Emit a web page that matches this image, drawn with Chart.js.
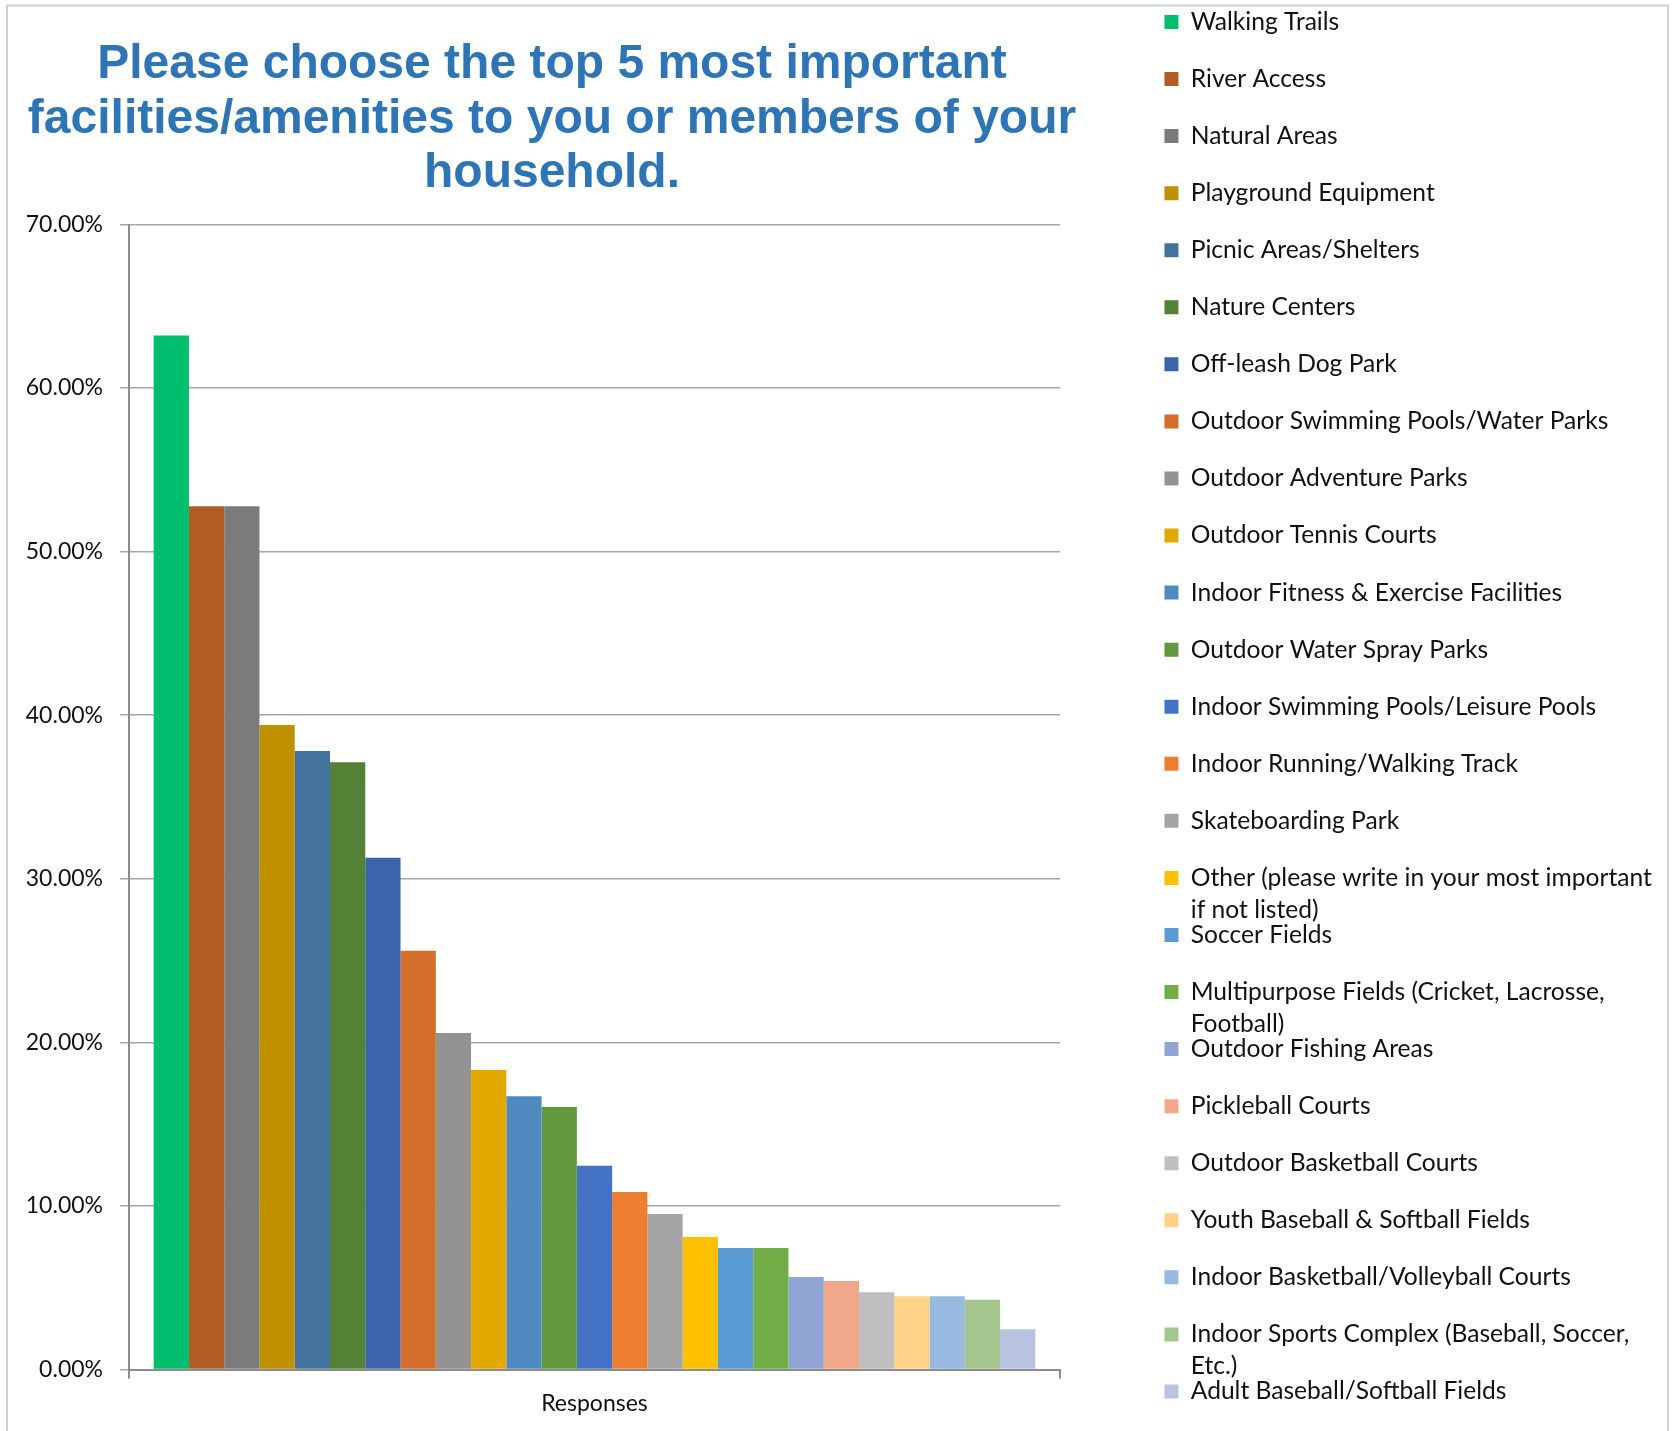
<!DOCTYPE html>
<html><head><meta charset="utf-8">
<script src="https://cdn.jsdelivr.net/npm/chart.js@4.4.1/dist/chart.umd.min.js"></script>
<style>html,body{margin:0;padding:0;background:#fff;} canvas{display:block;}</style>
</head><body>
<canvas id="c" width="1674" height="1431"></canvas>
<script>
// ---- data ----
const categories = ['Responses'];
const facilityLines = [
  ['Walking Trails'], ['River Access'], ['Natural Areas'], ['Playground Equipment'],
  ['Picnic Areas/Shelters'], ['Nature Centers'], ['Off-leash Dog Park'],
  ['Outdoor Swimming Pools/Water Parks'], ['Outdoor Adventure Parks'], ['Outdoor Tennis Courts'],
  ['Indoor Fitness & Exercise Facilities'], ['Outdoor Water Spray Parks'],
  ['Indoor Swimming Pools/Leisure Pools'], ['Indoor Running/Walking Track'], ['Skateboarding Park'],
  ['Other (please write in your most important', 'if not listed)'], ['Soccer Fields'],
  ['Multipurpose Fields (Cricket, Lacrosse,', 'Football)'], ['Outdoor Fishing Areas'],
  ['Pickleball Courts'], ['Outdoor Basketball Courts'], ['Youth Baseball & Softball Fields'],
  ['Indoor Basketball/Volleyball Courts'], ['Indoor Sports Complex (Baseball, Soccer,', 'Etc.)'],
  ['Adult Baseball/Softball Fields']
];
const facilities = facilityLines.map(l => l.join(' '));
const responsePct = [63.22, 52.78, 52.78, 39.40, 37.81, 37.12, 31.28, 25.60, 20.57, 18.31, 16.71, 16.05,
  12.45, 10.85, 9.50, 8.10, 7.43, 7.43, 5.66, 5.41, 4.72, 4.48, 4.48, 4.26, 2.46];
const yTicks = [0, 10, 20, 30, 40, 50, 60, 70];
const titleLines = ['Please choose the top 5 most important', 'facilities/amenities to you or members of your', 'household.'];

// ---- styles ----
const palette = ['#00BE6E', '#B25D25', '#7B7B7B', '#BF9000', '#43729D', '#538135', '#3C64AD', '#D36E2C',
  '#939393', '#E2AA00', '#4E89BF', '#62993E', '#4472C4', '#ED7D31', '#A5A5A5', '#FFC000', '#5B9BD5',
  '#70AD47', '#90A4D4', '#F1A88A', '#BFBFBF', '#FFD28A', '#98B9E0', '#A5C58E', '#B8C2E1'];
const FAM = 'Lato';
const LF = 24.6;          // legend font size
const TF = 23;            // tick font size
const BOX = 14;
const ROW = 57.06;        // legend row pitch
const itemH = Math.max(LF, BOX);
const LPAD = ROW - itemH;
const PT = 22 - LPAD - itemH / 2;
const PB = -12;
const LEG_LEFT = 1132;
const LEG_W = 539;
const PLOT_RIGHT = 1060;
const mc = document.createElement('canvas').getContext('2d');
mc.font = LF + 'px ' + FAM;
const maxFirst = Math.max(...facilityLines.map(l => mc.measureText(l[0]).width));
const natural = LPAD + BOX + LF / 2 + maxFirst + 10;
const legW = Math.min(natural, LEG_W);
const PR = Math.max(0, 1674 - LEG_LEFT - legW);

const TITLE_LH = 54.5;
const TITLE_Y1 = 65;

const frame = {
  id: 'frame',
  beforeDraw(chart) {
    const ctx = chart.ctx;
    ctx.save();
    ctx.strokeStyle = '#D0D0D0';
    ctx.lineWidth = 2;
    ctx.strokeRect(7, 5.5, 1661, 1500);
    ctx.restore();
  }
};
const titleCenter = {
  id: 'titleCenter',
  afterLayout(chart) {
    const t = chart.titleBlock;
    if (t) { t.left = 0; t.right = 1104; t.width = 1104; }
  }
};
const legendWrap = {
  id: 'legendWrap',
  afterDraw(chart) {
    const lg = chart.legend;
    if (!lg || !lg.legendHitBoxes) return;
    const ctx = chart.ctx;
    ctx.save();
    ctx.font = LF + 'px ' + FAM;
    ctx.fillStyle = '#111111';
    ctx.textBaseline = 'middle';
    ctx.textAlign = 'left';
    facilityLines.forEach((lines, i) => {
      const hb = lg.legendHitBoxes[i];
      if (!hb) return;
      for (let k = 1; k < lines.length; k++) {
        ctx.fillText(lines[k], hb.left + BOX + LF / 2, hb.top + hb.height / 2 + k * 32);
      }
    });
    ctx.restore();
  }
};

new Chart(document.getElementById('c'), {
  type: 'bar',
  data: {
    labels: categories,
    datasets: facilities.map((name, i) => ({
      label: name,
      data: [responsePct[i]],
      backgroundColor: palette[i],
      borderWidth: 0,
      categoryPercentage: 0.947,
      barPercentage: 1.0
    }))
  },
  options: {
    responsive: false,
    animation: false,
    layout: { padding: { top: PT, bottom: PB, left: 0, right: PR } },
    plugins: {
      tooltip: { enabled: false },
      title: {
        display: true,
        fullSize: false,
        text: titleLines,
        color: '#2E75B6',
        font: { family: 'Liberation Sans', size: 48, weight: 'bold', lineHeight: TITLE_LH / 48 },
        padding: { top: TITLE_Y1 - TITLE_LH / 2 - PT, bottom: 224.5 - (TITLE_Y1 - TITLE_LH / 2) - 3 * TITLE_LH }
      },
      legend: {
        display: true,
        position: 'right',
        align: 'start',
        maxWidth: LEG_W,
        labels: {
          boxWidth: BOX,
          boxHeight: BOX,
          padding: LPAD,
          color: '#111111',
          font: { family: FAM, size: LF },
          generateLabels(chart) {
            const items = Chart.defaults.plugins.legend.labels.generateLabels(chart);
            items.forEach((it, i) => { it.text = facilityLines[i][0]; it.lineWidth = 0; });
            return items;
          }
        }
      }
    },
    scales: {
      x: {
        type: 'category',
        offset: true,
        grid: { display: true, drawOnChartArea: false, drawTicks: true, tickLength: 9, color: '#8C8C8C', lineWidth: 2, offset: true },
        border: { display: true, color: '#8C8C8C', width: 2 },
        ticks: { color: '#111111', font: { family: FAM, size: TF }, padding: 11 },
        afterFit(s) { s.height = 1431 - PB - 1369.5; }
      },
      y: {
        min: 0, max: 70,
        afterBuildTicks(s) { s.ticks = yTicks.map(v => ({ value: v })); },
        grid: { color: '#A6A6A6', lineWidth: 1.5, drawTicks: true, tickLength: 9 },
        border: { display: true, color: '#8C8C8C', width: 2 },
        ticks: { color: '#111111', font: { family: FAM, size: TF }, padding: 17, callback: v => v.toFixed(2) + '%' },
        afterFit(s) { s.width = 129; }
      },
      yR: {
        position: 'right',
        display: true,
        grid: { display: false, drawTicks: false },
        border: { display: false },
        ticks: { display: false },
        afterFit(s) { s.width = LEG_LEFT - PLOT_RIGHT; }
      }
    }
  },
  plugins: [frame, titleCenter, legendWrap]
});
</script>
</body></html>
